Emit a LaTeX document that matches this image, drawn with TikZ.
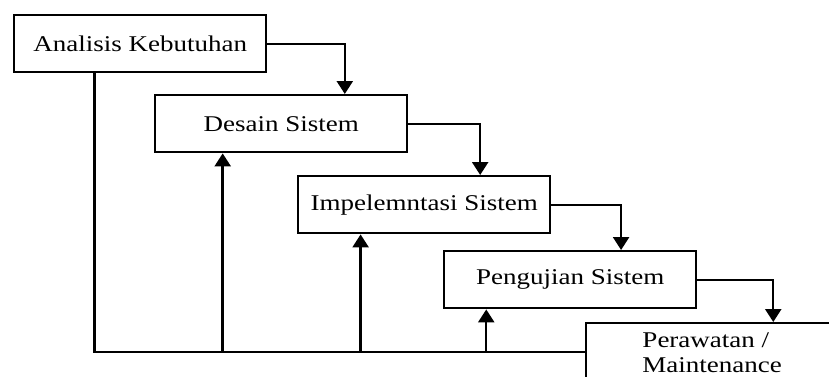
\documentclass[tikz,border=0pt]{standalone}
\usepackage{fontspec}
\setmainfont{Liberation Serif}[FakeStretch=1.2]
\usetikzlibrary{arrows.meta, positioning, calc}

\begin{document}
\begin{tikzpicture}[x=1pt, y=-1pt, line width=2.4pt,
    tahap/.style={draw, rectangle, minimum width=252pt, minimum height=57pt,
      anchor=north west, inner sep=0pt, font=\fontsize{22.5}{25}\selectfont},
    alur/.style={-{Triangle[width=16pt,length=13pt]}}]
  % Keep the page at the size of the original
  \useasboundingbox (0,0) rectangle (829,376);
  \clip (0,0) rectangle (829,376);

  % Draw the boxes
  \node[tahap] (analisis) at (13,14) {Analisis Kebutuhan};
  \node[tahap] (desain) at (154,94) {Desain Sistem};
  \node[tahap] (implementasi) at (297,175) {Impelemntasi Sistem};
  \node[tahap] (pengujian) at (443,250) {Pengujian Sistem};
  \node[tahap, align=left, minimum height=58pt] (perawatan) at (585,322) {Perawatan /\\Maintenance};

  % Draw the arrows going down the steps
  \draw[alur] (analisis.east) -| ($(desain.north west)!0.75!(desain.north east)$);
  \draw[alur] (desain.east) -| ($(implementasi.north west)!0.72!(implementasi.north east)$);
  \draw[alur] (implementasi.east) -| ($(pengujian.north west)!0.70!(pengujian.north east)$);
  \draw[alur] (pengujian.east) -| ($(perawatan.north west)!0.74!(perawatan.north east)$);

  % Draw the lines going back
  \coordinate (balik1) at ($(analisis.south west)!0.32!(analisis.south east)$);
  \coordinate (balik2) at ($(desain.south west)!0.27!(desain.south east)$);
  \coordinate (balik3) at ($(implementasi.south west)!0.25!(implementasi.south east)$);
  \coordinate (balik4) at ($(pengujian.south west)!0.17!(pengujian.south east)$);
  \draw (balik1) |- (perawatan.west);
  \draw[alur] (balik2 |- perawatan.west) -- (balik2);
  \draw[alur] (balik3 |- perawatan.west) -- (balik3);
  \draw[alur] (balik4 |- perawatan.west) -- (balik4);

\end{tikzpicture}
\end{document}
